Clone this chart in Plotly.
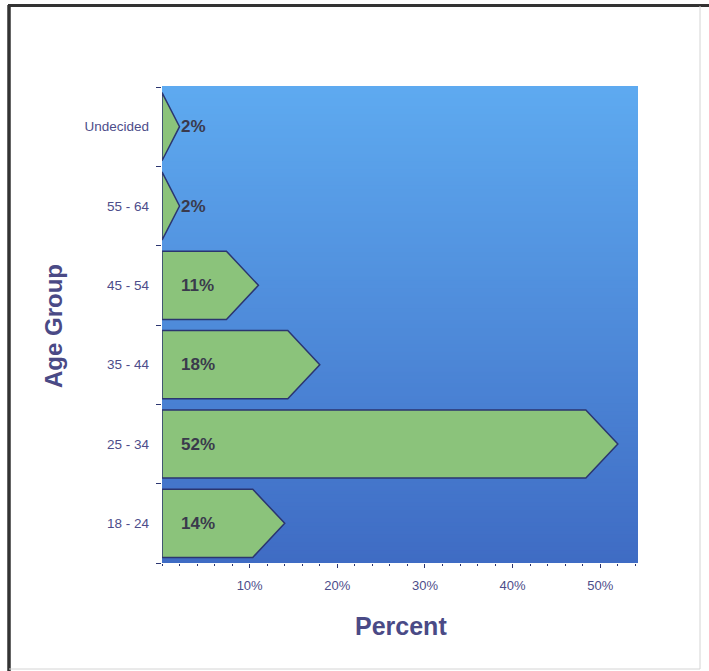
import plotly.graph_objects as go

# Survey responses by age group (percent of respondents)
categories = ["18 - 24", "25 - 34", "35 - 44", "45 - 54", "55 - 64", "Undecided"]
percents = [14, 52, 18, 11, 2, 2]
x_tick_values = [10, 20, 30, 40, 50]
x_tick_labels = ["10%", "20%", "30%", "40%", "50%"]

W, H = 709, 671
L, R, T, B = 162, 71, 87, 108
PW, PH = W - L - R, H - T - B

FONT = "Liberation Sans, Arial, sans-serif"
TICK_COLOR = "#4d4d8a"
TITLE_COLOR = "#4a4a86"
BAR_FILL = "#8bc37b"
BAR_LINE = "#2b3570"
LABEL_COLOR = "#3a3a4c"

HEAD = 3.65      # arrow-head length in percent units
HALF = 0.43      # half bar thickness in category units


def px_x(p):
    return (p - L) / PW


def px_y(p):
    return (H - B - p) / PH


def arrow(v, i):
    """Pentagon (arrow) outline for a bar of value v at row i."""
    if v > HEAD:
        xs = [0, v - HEAD, v, v - HEAD, 0, 0]
        ys = [i - HALF, i - HALF, i, i + HALF, i + HALF, i - HALF]
    else:
        xs = [0, v, 0, 0]
        ys = [i - HALF, i, i + HALF, i - HALF]
    return xs, ys


fig = go.Figure()

for i, (cat, v) in enumerate(zip(categories, percents)):
    xs, ys = arrow(v, i)
    fig.add_trace(go.Scatter(
        x=xs, y=ys, mode="lines", fill="toself",
        fillcolor=BAR_FILL, line=dict(color=BAR_LINE, width=1.5),
        name=cat, hoverinfo="skip", showlegend=False,
    ))

annotations = []
for i, v in enumerate(percents):
    annotations.append(dict(
        x=1.9, y=i, xref="x", yref="y", xanchor="left", yanchor="middle",
        text=f"<b>{v}%</b>", showarrow=False,
        font=dict(family=FONT, size=17, color=LABEL_COLOR),
    ))

annotations.append(dict(
    x=px_x(401), y=px_y(626), xref="paper", yref="paper",
    xanchor="center", yanchor="middle", text="<b>Percent</b>", showarrow=False,
    font=dict(family=FONT, size=25, color=TITLE_COLOR),
))
annotations.append(dict(
    x=px_x(53), y=px_y(326), xref="paper", yref="paper",
    xanchor="center", yanchor="middle", text="<b>Age Group</b>", showarrow=False,
    textangle=-90, font=dict(family=FONT, size=24, color=TITLE_COLOR),
))

# vertical blue gradient behind the plot area
shapes = []
top_c = (94, 170, 240)
bot_c = (63, 108, 196)
n = 120
for k in range(n):
    t = k / (n - 1)
    c = tuple(round(top_c[j] + (bot_c[j] - top_c[j]) * t) for j in range(3))
    shapes.append(dict(
        type="rect", xref="paper", yref="paper", layer="below",
        x0=0, x1=1, y0=1 - (k + 1) / n, y1=1 - k / n + 0.002,
        fillcolor=f"rgb{c}", line=dict(width=0),
    ))

# outer frame
shapes.append(dict(type="line", xref="paper", yref="paper",
                   x0=px_x(9), x1=px_x(9), y0=px_y(5), y1=px_y(671),
                   line=dict(color="#333333", width=3.5)))
shapes.append(dict(type="line", xref="paper", yref="paper",
                   x0=px_x(8), x1=px_x(709), y0=px_y(5.5), y1=px_y(5.5),
                   line=dict(color="#333333", width=3)))
shapes.append(dict(type="line", xref="paper", yref="paper",
                   x0=px_x(700), x1=px_x(700), y0=px_y(6), y1=px_y(669),
                   line=dict(color="#d4d4d4", width=1)))
shapes.append(dict(type="line", xref="paper", yref="paper",
                   x0=px_x(9), x1=px_x(700), y0=px_y(669), y1=px_y(669),
                   line=dict(color="#d4d4d4", width=1)))

fig.update_layout(
    width=W, height=H,
    margin=dict(l=L, r=R, t=T, b=B, pad=0),
    paper_bgcolor="white",
    plot_bgcolor="rgba(0,0,0,0)",
    shapes=shapes,
    annotations=annotations,
    showlegend=False,
    xaxis=dict(
        range=[0, 54.3], showgrid=False, zeroline=False,
        tickvals=x_tick_values, ticktext=x_tick_labels,
        ticks="outside", ticklen=4, tickcolor=BAR_LINE, tickwidth=1,
        minor=dict(dtick=2, tick0=0, ticks="outside", ticklen=2,
                   tickcolor=BAR_LINE, showgrid=False),
        tickfont=dict(family=FONT, size=13, color=TICK_COLOR),
        ticklabelstandoff=6,
        showline=False, fixedrange=True,
    ),
    yaxis=dict(
        range=[-0.5, 5.5], showgrid=False, zeroline=False,
        tickvals=list(range(len(categories))), ticktext=categories,
        ticks="", ticklabelstandoff=12,
        minor=dict(tickvals=[k - 0.5 for k in range(len(categories) + 1)],
                   ticks="outside", ticklen=5, tickcolor=BAR_LINE,
                   showgrid=False),
        tickfont=dict(family=FONT, size=13.5, color=TICK_COLOR),
        showline=False, fixedrange=True,
    ),
)

fig.write_html("out.html")
